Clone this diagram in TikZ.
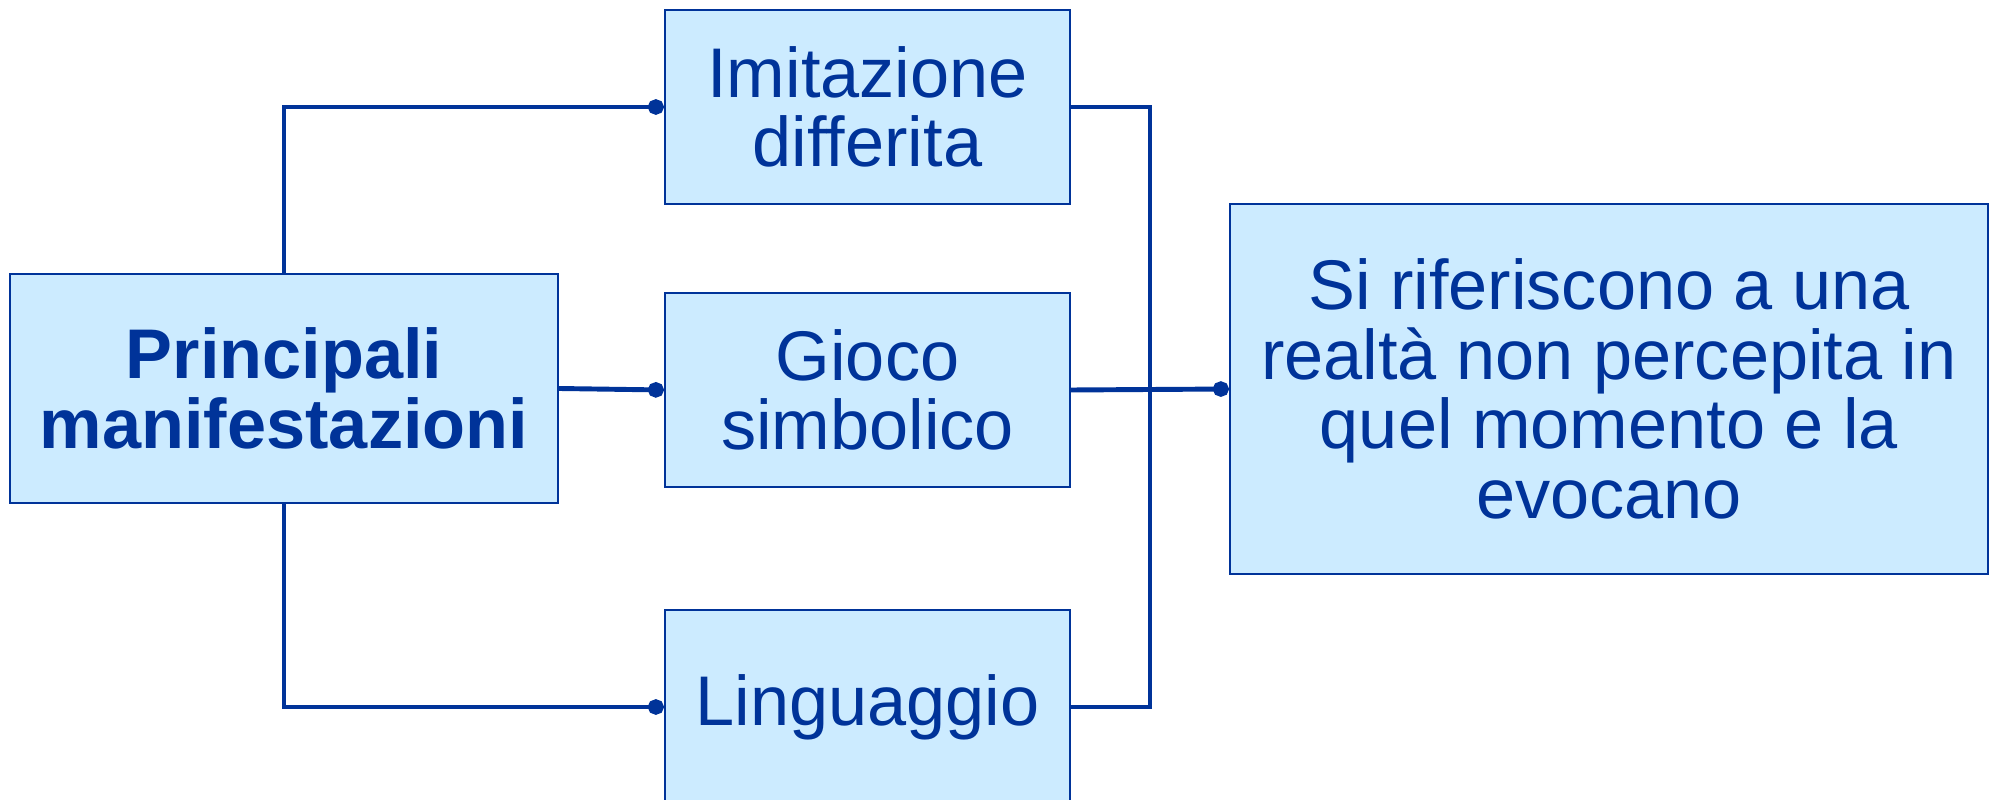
\documentclass[tikz,border=0pt]{standalone}
\usepackage{fontspec}
\setmainfont{Liberation Sans}
\usetikzlibrary{arrows.meta}
\definecolor{boxfill}{HTML}{CCEBFF}
\definecolor{boxblue}{HTML}{003399}

\begin{document}
\begin{tikzpicture}[
	box/.style={draw=boxblue,line width=0.6pt,fill=boxfill,text=boxblue,
		align=center,inner sep=0pt,
		font=\fontsize{20}{19.8}\selectfont},
	link/.style={boxblue,line width=1.4pt},
	dot/.style={-{Circle[length=4.6pt,width=4.4pt]}}
]
	% fixed frame, same proportions as the original
	\useasboundingbox (0,0) rectangle (19.97,-8.00);
	% the boxes
	\node[box,minimum width=5.48cm,minimum height=2.29cm,font=\fontsize{20}{19.8}\selectfont\bfseries]
		(prin) at (2.84,-3.885) {Principali\\manifestazioni};
	\node[box,minimum width=4.05cm,minimum height=1.94cm] (imit) at (8.675,-1.07) {Imitazione\\differita};
	\node[box,minimum width=4.05cm,minimum height=1.94cm] (gioco) at (8.675,-3.90) {Gioco\\simbolico};
	\node[box,minimum width=4.05cm,minimum height=1.94cm] (ling) at (8.675,-7.07) {Linguaggio};
	\node[box,minimum width=7.58cm,minimum height=3.70cm] (real) at (16.09,-3.89)
		{Si riferiscono a una\\realtà non percepita in\\quel momento e la\\evocano};
	% left side connectors
	\draw[link,dot] (prin.north) |- (imit.west);
	\draw[link,dot] (prin.east) -- (gioco.west);
	\draw[link,dot] (prin.south) |- (ling.west);
	% right side bus
	\coordinate (bus) at (11.50,-1.07);
	\draw[link] (imit.east) -- (bus) |- (ling.east);
	\draw[link,dot] (gioco.east) -- (real.west);
\end{tikzpicture}
\end{document}
